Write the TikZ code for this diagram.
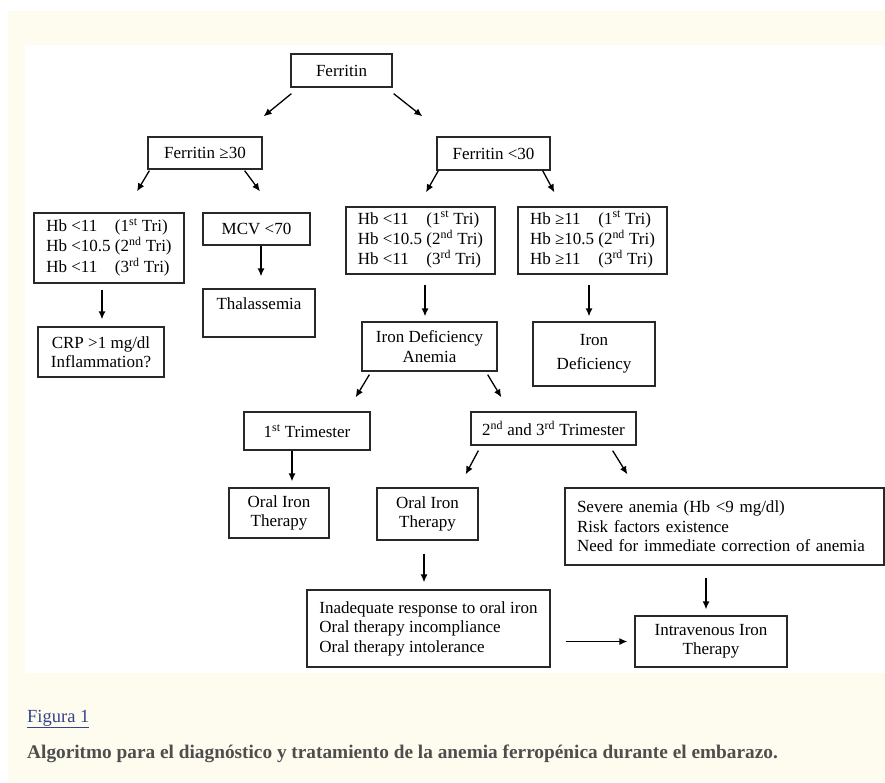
\documentclass[tikz,border=0pt]{standalone}
\usepackage{fontspec}
\setmainfont{Liberation Serif}
\usepackage{xcolor}
\definecolor{pagecream}{RGB}{254,252,238}
\definecolor{boxline}{RGB}{40,40,40}
\definecolor{linkblue}{RGB}{52,68,140}
\definecolor{captgray}{RGB}{78,78,78}
\usetikzlibrary{arrows.meta,positioning,calc}

\newcommand{\hbtab}[1]{\begin{tabular}{@{}l@{\ }l@{}}
Hb #1{}11 & (1\textsuperscript{st} Tri)\\
Hb #1{}10.5 & (2\textsuperscript{nd} Tri)\\
Hb #1{}11 & (3\textsuperscript{rd} Tri)
\end{tabular}}

\begin{document}
\begin{tikzpicture}[
  x=1pt, y=-1pt,
  box/.style={draw=boxline, line width=1.3pt, fill=white, align=center, inner sep=0pt, font=\fontsize{17}{19.5}\selectfont},
  arr/.style={-{Latex[length=8pt,width=7pt]}, line width=1.3pt, black}
]
\useasboundingbox (0,0) rectangle (885,782);

% Page background
\fill[white] (0,0) rectangle (885,782);
\fill[pagecream] (8,11) rectangle (885,782);
\fill[white] (25,45) rectangle (885,673);

% Top of the tree
\node[box, minimum width=101pt, minimum height=33pt] (ferritin) at (341.5,70.5) {Ferritin};
\node[box, minimum width=114pt, minimum height=32pt] (ferhigh) at (205,153) {Ferritin ≥30};
\node[box, minimum width=113pt, minimum height=33pt] (ferlow) at (493.5,153.5) {Ferritin <30};

\draw[arr] ($(ferritin.south west)+(1,6)$) -- ($(ferhigh.north east)+(1,-20)$);
\draw[arr] ($(ferritin.south east)+(1,6)$) -- ($(ferlow.north west)+(-14,-20)$);

% Ferritin >= 30 branch
\node[box, minimum width=150pt, minimum height=70pt] (hbleft) at (109,248) {\hbtab{<}};
\node[box, minimum width=107pt, minimum height=32pt] (mcv) at (256.5,229) {MCV <70};
\node[box, minimum width=112pt, minimum height=48pt] (thal) at (259,313) {Thalassemia\\ \mbox{}};
\node[box, minimum width=126pt, minimum height=50pt] (crp) at (101,352) {CRP >1 mg/dl\\Inflammation?};

\draw[arr] ($(ferhigh.south west)+(2,1)$) -- ($(hbleft.north)+(28,-21)$);
\draw[arr] ($(ferhigh.south east)+(-18,1)$) -- ($(mcv.north)+(3.5,-21)$);
\draw[arr] ($(mcv.south)+(4.5,0)$) -- ($(mcv.south |- thal.north)+(4.5,-12)$);
\draw[arr] ($(crp.north |- hbleft.south)+(1,6)$) -- ($(crp.north)+(1,-7)$);

% Ferritin < 30 branch
\node[box, minimum width=149pt, minimum height=67pt] (hbmid) at (420.5,240.5) {\hbtab{<}};
\node[box, minimum width=149pt, minimum height=67pt] (hbright) at (592.5,240.5) {\hbtab{≥}};
\node[box, minimum width=135pt, minimum height=49pt] (ida) at (429.5,346.5) {Iron Deficiency\\Anemia};
\node[box, minimum width=122pt, minimum height=64pt] (irondef) at (594,354) {Iron\\[4pt]Deficiency};

\draw[arr] ($(ferlow.south west)+(2,0)$) -- ($(hbmid.north)+(5.5,-14)$);
\draw[arr] ($(ferlow.south east)+(-8,0)$) -- ($(hbright.north west)+(37,-14)$);
\draw[arr] ($(hbmid.south)+(4.5,10)$) -- ($(hbmid.south |- ida.north)+(4.5,-5)$);
\draw[arr] ($(hbright.south)+(-3.5,10)$) -- ($(hbright.south |- irondef.north)+(-3.5,-5)$);

% Trimesters
\node[box, minimum width=126pt, minimum height=38pt] (tri1) at (307,431) {1\textsuperscript{st} Trimester};
\node[box, minimum width=165pt, minimum height=33pt] (tri23) at (553.5,428.5) {2\textsuperscript{nd} and 3\textsuperscript{rd} Trimester};

\draw[arr] ($(ida.south west)+(8,3)$) -- ($(tri1.north east)+(-15,-14)$);
\draw[arr] ($(ida.south east)+(-10,3)$) -- ($(tri23.north west)+(31,-14)$);

% Treatment
\node[box, minimum width=100pt, minimum height=50pt] (oralA) at (279,513) {Oral Iron\\Therapy};
\node[box, minimum width=101pt, minimum height=52pt] (oralB) at (427.5,514) {Oral Iron\\Therapy};
\node[box, minimum height=77pt, inner xsep=12pt, text width=295pt, align=left] (severe) at (724.5,526.5) {Severe anemia (Hb <9 mg/dl)\\Risk factors existence\\Need for immediate correction of anemia};
\node[box, minimum width=243pt, minimum height=77pt, align=left] (inadeq) at (428.5,628.5) {Inadequate response to oral iron\\Oral therapy incompliance\\Oral therapy intolerance};
\node[box, minimum width=152pt, minimum height=51pt] (iv) at (711,641.5) {Intravenous Iron\\Therapy};

\draw[arr] ($(tri1.south)+(-15,0)$) -- ($(tri1.south |- oralA.north)+(-15,-6)$);
\draw[arr] ($(tri23.south west)+(8,5)$) -- ($(oralB.north east)+(-13,-13)$);
\draw[arr] ($(tri23.south east)+(-24,5)$) -- ($(severe.north west)+(63,-13)$);
\draw[arr] ($(oralB.south)+(-3.5,13)$) -- ($(oralB.south |- inadeq.north)+(-3.5,-7)$);
\draw[arr] ($(iv.north |- severe.south)+(-5,12)$) -- ($(iv.north)+(-5,-6)$);
\draw[arr] ($(inadeq.east |- iv.west)+(15,0)$) -- ($(iv.west)+(-7,0)$);

% Caption
\node[anchor=west, inner sep=0pt, text=linkblue, font=\fontsize{18.5}{21}\selectfont] (figlabel) at (27,719) {\underline{Figura 1}};
\node[anchor=west, inner sep=0pt, text=captgray, font=\fontsize{19.3}{22}\selectfont\bfseries] (figcaption) at (27,754) {Algoritmo para el diagnóstico y tratamiento de la anemia ferropénica durante el embarazo.};
\end{tikzpicture}
\end{document}
